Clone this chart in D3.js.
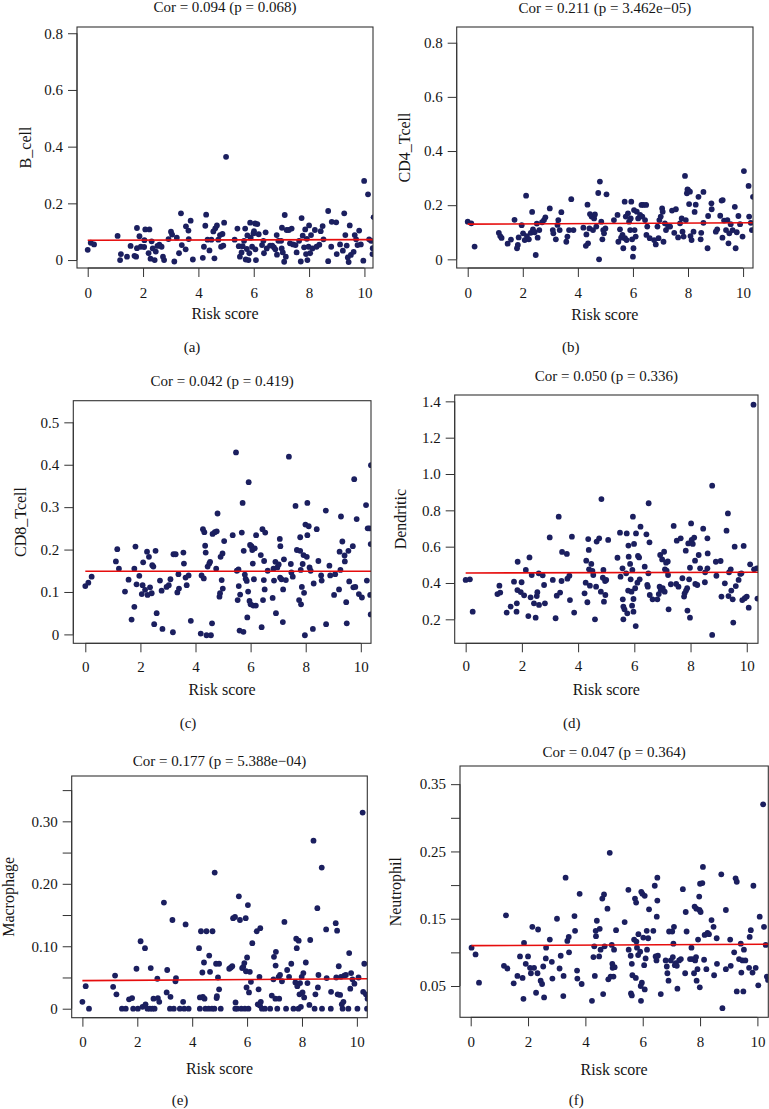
<!DOCTYPE html>
<html><head><meta charset="utf-8">
<script src="https://cdn.jsdelivr.net/npm/d3@7"></script>
<style>
html,body{margin:0;padding:0;background:#fff;}
svg{display:block;}
text{font-family:"Liberation Serif","Times New Roman",serif;fill:#151515;}
</style></head>
<body>
<script>
// ---------------- DATA ----------------
const xTicks = [0, 2, 4, 6, 8, 10];
const titles = ["Cor = 0.094 (p = 0.068)", "Cor = 0.211 (p = 3.462e\u221205)", "Cor = 0.042 (p = 0.419)",
                "Cor = 0.050 (p = 0.336)", "Cor = 0.177 (p = 5.388e\u221204)", "Cor = 0.047 (p = 0.364)"];
const cellTypes = ["B_cell", "CD4_Tcell", "CD8_Tcell", "Dendritic", "Macrophage", "Neutrophil"];
const panelLabels = ["(a)", "(b)", "(c)", "(d)", "(e)", "(f)"];
const xLabel = "Risk score";
const yTicks = [[0,0.2,0.4,0.6,0.8],[0,0.2,0.4,0.6,0.8],[0,0.1,0.2,0.3,0.4,0.5],
                [0.2,0.4,0.6,0.8,1.0,1.2,1.4],[0,0.05,0.10,0.15,0.20,0.25,0.30,0.35],
                [0.05,0.10,0.15,0.20,0.25,0.30,0.35]];
const yTickLabels = [["0","0.2","0.4","0.6","0.8"],["0","0.2","0.4","0.6","0.8"],
                     ["0","0.1","0.2","0.3","0.4","0.5"],["0.2","0.4","0.6","0.8","1.0","1.2","1.4"],
                     ["0","","0.10","","0.20","","0.30",""],["0.05","","0.15","","0.25","","0.35"]];
const xDomains = [[-0.387,10.31],[-0.40,10.36],[-0.436,10.37],[-0.39,10.40],[-0.39,10.38],[-0.373,10.38]];
const yDomains = [[-0.028,0.822],[-0.032,0.858],[-0.021,0.551],[0.068,1.435],[-0.0144,0.3726],[0.0035,0.377]];
// fitted line: [x start, y at start, y at x = 10.4]
const fitLines = [[0,0.070,0.072],[0,0.130,0.135],[0,0.149,0.149],[0,0.455,0.459],[0,0.045,0.048],[0.03,0.110,0.112]];

const bCell = [[0,0.036],[0.11,0.061],[0.23,0.055],[1.08,0.085],[1.17,0],[1.2,0.021],[1.42,0.012],[1.55,0.05],[1.69,0.015],[1.75,0.012],[1.78,0.113],[1.78,0.042],[1.87,0.084],[1.92,0.047],[2.04,0.046],[2.08,0.108],[2.05,0.07],[2.23,0.108],[2.2,0.024],[2.27,0.005],[2.31,0.066],[2.35,0.041],[2.42,0],[2.46,0.03],[2.52,0.05],[2.59,0.054],[2.67,0.047],[2.72,0.012],[2.76,0],[2.92,0.074],[3.01,0.1],[3.05,0.09],[3.13,-0.005],[3.22,0.079],[3.3,0.024],[3.37,0.165],[3.4,0.053],[3.55,0.119],[3.54,0.038],[3.64,0.104],[3.65,0.074],[3.72,0.139],[3.8,0.002],[4.16,0.008],[4.2,0.047],[4.25,0.121],[4.28,0.16],[4.33,0.072],[4.4,0.034],[4.47,0.072],[4.54,0.101],[4.58,0.006],[4.61,0.112],[4.67,0.122],[4.72,0.072],[4.78,0.088],[4.82,0.047],[4.87,0.092],[4.9,0.051],[4.93,0.132],[5.0,0.364],[5.31,0.072],[5.41,0.111],[5.46,0.049],[5.5,0.012],[5.56,0.027],[5.6,0.049],[5.65,0.068],[5.69,0.111],[5.71,0.002],[5.75,0.039],[5.77,0.087],[5.81,0],[5.84,0.024],[5.87,0.132],[5.89,0.079],[5.94,0.047],[5.99,0.094],[6.01,0.102],[6.05,0.129],[6.06,0.038],[6.08,0],[6.13,0.127],[6.18,0.091],[6.3,0.053],[6.35,0.068],[6.37,0.024],[6.43,0.098],[6.47,0.041],[6.59,0.051],[6.67,0.051],[6.73,0.045],[6.78,0.038],[6.83,0.088],[6.84,0.019],[6.89,0.068],[6.99,0.068],[7.02,0.114],[7.01,0.041],[7.05,0.027],[7.1,-0.006],[7.12,0.159],[7.16,0.012],[7.19,0.106],[7.27,0.106],[7.31,0.059],[7.37,0.111],[7.42,0.055],[7.51,0.053],[7.55,0.027],[7.64,0.068],[7.7,-0.005],[7.73,0.148],[7.77,0.086],[7.82,0.045],[7.86,0.108],[7.89,0.021],[7.92,0.075],[7.94,0],[7.98,0.047],[8.0,0.122],[8.04,0.024],[8.07,0.088],[8.12,0.041],[8.21,0.106],[8.27,0.047],[8.37,0.054],[8.42,0.102],[8.49,0.12],[8.52,0.073],[8.69,-0.004],[8.69,0.173],[8.8,0.047],[8.82,0.135],[8.98,0.133],[9.0,0.021],[9.12,0.055],[9.22,0.033],[9.27,0.165],[9.31,0.088],[9.36,0.051],[9.4,0.009],[9.43,-0.007],[9.47,0.122],[9.51,0.018],[9.61,0.029],[9.65,0.088],[9.7,0.073],[9.75,0.053],[9.81,0.104],[9.87,0.055],[9.96,-0.002],[9.99,0.279],[10.13,0.232],[10.17,0.073],[10.24,0.068],[10.29,0.021],[10.3,0.042],[10.33,0.151]];

const cd4Tcell = [[0,0.139],[0.13,0.133],[0.25,0.047],[1.13,0.098],[1.18,0.086],[1.23,0.079],[1.45,0.058],[1.57,0.073],[1.7,0.146],[1.79,0.041],[1.82,0.053],[1.85,0.081],[1.96,0.126],[2.01,0.096],[2.07,0.071],[2.12,0.235],[2.15,0.086],[2.22,0.074],[2.29,0.098],[2.34,0.175],[2.37,0.111],[2.43,0.1],[2.47,0.016],[2.51,0.132],[2.54,0.08],[2.6,0.108],[2.7,0.137],[2.77,0.145],[2.82,0.155],[2.98,0.188],[3.09,0.108],[3.11,0.096],[3.2,0.074],[3.26,0.127],[3.29,0.145],[3.34,0.108],[3.4,0.174],[3.58,0.065],[3.62,0.084],[3.68,0.108],[3.76,0.222],[3.84,0.108],[4.2,0.117],[4.29,0.05],[4.31,0.092],[4.35,0.202],[4.37,0.059],[4.42,0.114],[4.44,0.167],[4.5,0.158],[4.55,0.108],[4.59,0.151],[4.62,0.166],[4.67,0.121],[4.74,0.245],[4.77,0],[4.8,0.287],[4.85,0.139],[4.89,0.074],[4.92,0.108],[4.95,0.096],[5.0,0.114],[5.04,0.24],[5.31,0.145],[5.44,0.164],[5.47,0.065],[5.53,0.111],[5.57,0.08],[5.62,0.09],[5.65,0.041],[5.7,0.213],[5.71,0.078],[5.74,0.158],[5.77,0.071],[5.82,0.17],[5.86,0.139],[5.9,0.108],[5.92,0.151],[5.94,0.213],[5.97,0.074],[6.0,0.01],[6.02,0.041],[6.04,0.182],[6.06,0.108],[6.1,0.084],[6.14,0.176],[6.19,0.151],[6.26,0.164],[6.31,0.201],[6.34,0.158],[6.38,0.201],[6.44,0.145],[6.48,0.201],[6.49,0.09],[6.52,0.121],[6.61,0.078],[6.77,0.071],[6.83,0.055],[6.89,0.121],[6.93,0.078],[6.96,0.145],[7.01,0.158],[7.06,0.188],[7.08,0.176],[7.11,0.065],[7.16,0.133],[7.2,0.108],[7.28,0.121],[7.35,0.121],[7.42,0.18],[7.5,0.098],[7.56,0.185],[7.64,0.081],[7.71,0.133],[7.77,0.151],[7.8,0.102],[7.84,0.084],[7.89,0.308],[7.92,0.145],[7.96,0.244],[7.98,0.258],[8.0,0.256],[8.04,0.204],[8.07,0.25],[8.09,0.086],[8.13,0.071],[8.2,0.102],[8.24,0.175],[8.28,0.202],[8.38,0.231],[8.46,0.074],[8.48,0.098],[8.56,0.249],[8.56,0.135],[8.71,0.041],[8.73,0.16],[8.85,0.207],[8.86,0.185],[9.01,0.102],[9.06,0.111],[9.17,0.161],[9.22,0.217],[9.26,0.219],[9.25,0.08],[9.31,0.143],[9.38,0.108],[9.43,0.145],[9.47,0.059],[9.5,0.096],[9.55,0.13],[9.62,0.108],[9.7,0.194],[9.73,0.041],[9.77,0.1],[9.83,0.16],[9.89,0.13],[9.98,0.084],[10.03,0.326],[10.2,0.271],[10.22,0.158],[10.28,0.135],[10.32,0.108],[10.36,0.231]];

const cd8Tcell = [[0,0.114],[0.11,0.122],[0.23,0.136],[1.11,0.172],[1.16,0.201],[1.22,0.155],[1.44,0.101],[1.57,0.129],[1.68,0.035],[1.78,0.065],[1.78,0.155],[1.82,0.207],[1.86,0.118],[1.96,0.138],[2.05,0.095],[2.08,0.116],[2.1,0.17],[2.17,0.105],[2.24,0.195],[2.26,0.093],[2.31,0.183],[2.35,0.111],[2.41,0.097],[2.43,0.163],[2.47,0.16],[2.5,0.024],[2.55,0.197],[2.59,0.05],[2.71,0.127],[2.77,0.103],[2.8,0.013],[2.95,0.112],[3.03,0.116],[3.09,0.13],[3.18,0.005],[3.2,0.189],[3.28,0.189],[3.34,0.099],[3.38,0.142],[3.4,0.108],[3.56,0.193],[3.58,0.167],[3.64,0.134],[3.68,0.116],[3.75,0.139],[3.83,0.032],[4.19,0.002],[4.22,0.139],[4.27,0.248],[4.3,0.132],[4.32,0.241],[4.35,0.209],[4.37,0.193],[4.4,-0.002],[4.44,0.16],[4.5,0.167],[4.53,0.171],[4.56,-0.002],[4.6,0.026],[4.62,0.237],[4.7,0.241],[4.75,0.155],[4.77,0.243],[4.8,0.285],[4.87,0.089],[4.89,0.097],[4.91,0.183],[4.95,0.128],[4.98,0.191],[4.99,0.108],[5.04,0.22],[5.35,0.234],[5.47,0.429],[5.5,0.15],[5.53,0.081],[5.56,0.153],[5.57,0.114],[5.6,0.009],[5.62,0.094],[5.68,0.24],[5.71,0.31],[5.74,0.006],[5.75,0.197],[5.79,0.141],[5.82,0.131],[5.86,0.126],[5.88,0.04],[5.91,0.101],[5.93,0.359],[5.96,0.079],[5.98,0.211],[6.0,0.071],[6.03,0.208],[6.06,0.199],[6.08,0.167],[6.1,0.068],[6.12,0.13],[6.15,0.203],[6.19,0.068],[6.2,0.234],[6.37,0.187],[6.4,0.017],[6.43,0.248],[6.45,0.081],[6.48,0.128],[6.49,0.173],[6.53,0.24],[6.51,0.106],[6.62,0.15],[6.8,0.086],[6.83,0.155],[6.85,0.127],[6.9,0.171],[6.92,0.05],[6.97,0.158],[7.02,0.165],[7.06,0.225],[7.07,0.134],[7.08,0.208],[7.12,0.13],[7.17,0.029],[7.18,0.106],[7.21,0.177],[7.28,0.128],[7.39,0.419],[7.46,0.166],[7.48,0.146],[7.53,0.136],[7.63,0.303],[7.68,0.199],[7.76,0.081],[7.8,0.229],[7.8,0.197],[7.82,0.152],[7.83,0.071],[7.86,0.112],[7.89,0.166],[7.92,0.187],[7.94,0.098],[7.97,-0.002],[7.99,0.259],[8.04,0.183],[8.06,0.31],[8.06,0.234],[8.11,0.255],[8.14,0.158],[8.18,0.15],[8.26,0.013],[8.29,0.12],[8.4,0.248],[8.46,0.173],[8.56,0.139],[8.58,0.127],[8.73,0.292],[8.74,0.024],[8.86,0.162],[8.89,0.139],[9.03,0.093],[9.07,0.142],[9.21,0.106],[9.23,0.195],[9.26,0.152],[9.28,0.278],[9.33,0.219],[9.41,0.186],[9.42,0.172],[9.47,0.076],[9.49,0.026],[9.55,0.197],[9.58,0.125],[9.71,0.208],[9.73,0.111],[9.76,0.366],[9.8,0.112],[9.85,0.272],[9.93,0.095],[10.04,0.087],[10.19,0.305],[10.22,0.127],[10.25,0.25],[10.31,0.25],[10.34,0.093],[10.36,0.047],[10.36,0.213],[10.37,0.399]];

const dendritic = [[0,0.417],[0.15,0.42],[0.25,0.242],[1.13,0.339],[1.2,0.385],[1.23,0.347],[1.46,0.237],[1.6,0.27],[1.72,0.407],[1.81,0.242],[1.82,0.288],[1.84,0.361],[1.85,0.517],[1.96,0.35],[1.99,0.404],[2.08,0.332],[2.14,0.472],[2.23,0.218],[2.27,0.541],[2.31,0.321],[2.35,0.444],[2.43,0.288],[2.49,0.209],[2.53,0.328],[2.55,0.349],[2.6,0.453],[2.61,0.279],[2.74,0.442],[2.79,0.389],[2.82,0.288],[2.99,0.651],[3.1,0.417],[3.2,0.206],[3.24,0.33],[3.36,0.347],[3.31,0.765],[3.41,0.411],[3.43,0.571],[3.6,0.56],[3.62,0.424],[3.69,0.44],[3.71,0.306],[3.78,0.655],[3.86,0.237],[4.23,0.343],[4.27,0.402],[4.29,0.523],[4.33,0.294],[4.36,0.642],[4.38,0.582],[4.39,0.475],[4.42,0.385],[4.47,0.505],[4.51,0.466],[4.54,0.444],[4.6,0.2],[4.64,0.38],[4.66,0.628],[4.75,0.646],[4.81,0.352],[4.83,0.862],[4.88,0.429],[4.9,0.472],[4.92,0.297],[4.96,0.411],[4.97,0.334],[5.0,0.417],[5.07,0.637],[5.4,0.539],[5.49,0.677],[5.51,0.435],[5.58,0.481],[5.59,0.31],[5.61,0.27],[5.61,0.2],[5.65,0.255],[5.71,0.453],[5.73,0.673],[5.75,0.233],[5.78,0.358],[5.79,0.606],[5.8,0.545],[5.85,0.505],[5.87,0.42],[5.9,0.352],[5.92,0.275],[5.93,0.472],[5.95,0.765],[5.97,0.312],[5.97,0.242],[5.99,0.615],[6.03,0.371],[6.05,0.163],[6.06,0.673],[6.11,0.402],[6.13,0.549],[6.17,0.541],[6.19,0.42],[6.22,0.71],[6.37,0.49],[6.43,0.668],[6.46,0.389],[6.48,0.38],[6.5,0.453],[6.51,0.839],[6.54,0.624],[6.55,0.334],[6.65,0.31],[6.82,0.31],[6.87,0.339],[6.9,0.38],[6.92,0.554],[6.94,0.361],[6.99,0.53],[7.01,0.371],[7.06,0.572],[7.08,0.352],[7.09,0.475],[7.13,0.512],[7.15,0.468],[7.19,0.519],[7.2,0.444],[7.22,0.255],[7.3,0.393],[7.4,0.714],[7.49,0.395],[7.51,0.633],[7.57,0.38],[7.65,0.646],[7.71,0.426],[7.77,0.325],[7.79,0.343],[7.83,0.578],[7.84,0.358],[7.88,0.371],[7.89,0.248],[7.92,0.618],[7.95,0.42],[7.98,0.484],[7.98,0.209],[8.02,0.728],[8.04,0.637],[8.08,0.615],[8.13,0.65],[8.16,0.523],[8.17,0.395],[8.24,0.389],[8.29,0.554],[8.34,0.481],[8.45,0.699],[8.51,0.404],[8.52,0.459],[8.6,0.646],[8.61,0.563],[8.6,0.481],[8.77,0.936],[8.77,0.114],[8.92,0.44],[8.9,0.517],[9.07,0.521],[9.1,0.325],[9.22,0.398],[9.28,0.688],[9.33,0.783],[9.35,0.328],[9.37,0.459],[9.43,0.475],[9.45,0.358],[9.5,0.31],[9.52,0.182],[9.57,0.6],[9.61,0.383],[9.71,0.417],[9.77,0.45],[9.81,0.453],[9.84,0.306],[9.89,0.604],[9.93,0.316],[10.0,0.325],[10.07,0.264],[10.12,0.503],[10.24,1.382],[10.26,0.475],[10.36,0.481],[10.38,0.314]];

const macrophage = [[0,0.011],[0.12,0.036],[0.24,0],[1.12,0.035],[1.19,0.053],[1.24,0.023],[1.44,0],[1.58,0],[1.7,0.015],[1.81,0.017],[1.85,0],[1.97,0.064],[2.02,0],[2.12,0.108],[2.19,0.003],[2.28,0.097],[2.3,0.007],[2.37,0],[2.46,0],[2.49,0.065],[2.55,0],[2.59,0.016],[2.63,0],[2.73,0.048],[2.75,0.017],[2.8,0.011],[2.97,0.17],[3.07,0.026],[3.09,0.062],[3.19,0],[3.21,0.019],[3.28,0.142],[3.33,0],[3.39,0.044],[3.41,0.049],[3.55,0],[3.67,0.011],[3.71,0],[3.76,0.135],[3.87,0],[4.25,0.097],[4.28,0],[4.28,0.018],[4.32,0.124],[4.37,0.058],[4.39,0.019],[4.43,0.074],[4.45,0.016],[4.48,0],[4.52,0.124],[4.6,0],[4.62,0.085],[4.65,0.059],[4.72,0],[4.74,0.124],[4.81,0],[4.82,0.218],[4.87,0.072],[4.89,0.017],[4.9,0.02],[4.94,0.05],[4.98,0.072],[4.98,0.031],[5.04,0],[5.35,0.064],[5.41,0.066],[5.46,0.068],[5.49,0.145],[5.56,0.147],[5.57,0],[5.58,0.01],[5.64,0],[5.7,0.18],[5.74,0.142],[5.79,0],[5.82,0.065],[5.86,0.067],[5.9,0.073],[5.92,0],[5.95,0.145],[5.96,0.06],[5.98,0.034],[6.0,0.082],[6.03,0.166],[6.05,0],[6.07,0.026],[6.1,0.059],[6.14,0.043],[6.19,0.105],[6.35,0.124],[6.39,0.007],[6.42,0.031],[6.45,0.051],[6.48,0.129],[6.47,0.005],[6.5,0.011],[6.54,0],[6.65,0],[6.84,0],[6.9,0.021],[6.96,0.047],[6.98,0.083],[7.03,0.016],[7.04,0.069],[7.05,0.091],[7.1,0],[7.15,0.051],[7.17,0.016],[7.2,0.054],[7.27,0.044],[7.36,0.139],[7.42,0],[7.46,0.062],[7.53,0.051],[7.61,0.072],[7.69,0],[7.76,0.042],[7.79,0.112],[7.81,0.097],[7.83,0.036],[7.88,0.109],[7.87,0],[7.91,0.023],[7.93,0.041],[7.96,0.003],[7.99,0.051],[8.02,0.026],[8.05,0.057],[8.08,0.018],[8.14,0.074],[8.2,0.041],[8.27,0.006],[8.3,0.11],[8.42,0.269],[8.46,0],[8.49,0.023],[8.56,0.161],[8.58,0.034],[8.6,0.054],[8.72,0.226],[8.73,0],[8.88,0.127],[8.9,0.049],[9.05,0],[9.06,0.027],[9.23,0.137],[9.25,0.05],[9.28,0.125],[9.3,0.023],[9.34,0.068],[9.39,0.022],[9.42,0.051],[9.45,0.007],[9.48,0],[9.51,0.011],[9.54,0.053],[9.6,0.054],[9.69,0],[9.72,0.089],[9.76,0.032],[9.79,0.057],[9.84,0.047],[9.91,0.04],[10.02,0],[10.06,0.05],[10.21,0.314],[10.23,0.027],[10.27,0.072],[10.33,0.023],[10.37,0],[10.39,0.016]];

const neutrophil = [[0.03,0.107],[0.17,0.097],[0.29,0.055],[1.16,0.08],[1.23,0.155],[1.28,0.076],[1.5,0.054],[1.63,0.065],[1.72,0.094],[1.81,0.062],[1.84,0.031],[1.86,0.114],[1.92,0.083],[2.0,0.094],[2.07,0.077],[2.1,0.069],[2.15,0.138],[2.21,0.077],[2.28,0.04],[2.33,0.069],[2.35,0.134],[2.44,0.058],[2.49,0.053],[2.53,0.079],[2.56,0.033],[2.62,0.091],[2.63,0.107],[2.76,0.119],[2.83,0.086],[2.85,0.061],[3.01,0.15],[3.1,0.076],[3.14,0.095],[3.23,0.035],[3.24,0.065],[3.31,0.211],[3.37,0.117],[3.42,0.123],[3.43,0.1],[3.62,0.154],[3.64,0.132],[3.71,0.073],[3.72,0.061],[3.8,0.187],[3.87,0.053],[4.23,0.028],[4.28,0.093],[4.31,0.109],[4.33,0.065],[4.36,0.132],[4.37,0.124],[4.4,0.147],[4.48,0.094],[4.5,0.135],[4.53,0.104],[4.59,0.18],[4.62,0.038],[4.65,0.186],[4.67,0.109],[4.77,0.165],[4.8,0.06],[4.85,0.248],[4.88,0.064],[4.92,0.111],[4.94,0.083],[4.95,0.077],[4.98,0.064],[5.0,0.104],[5.02,0.078],[5.07,0.133],[5.37,0.145],[5.5,0.193],[5.51,0.104],[5.58,0.095],[5.59,0.039],[5.62,0.036],[5.62,0.083],[5.64,0.066],[5.7,0.119],[5.73,0.18],[5.76,0.062],[5.77,0.174],[5.78,0.116],[5.8,0.107],[5.84,0.096],[5.85,0.127],[5.91,0.101],[5.93,0.05],[5.94,0.028],[5.95,0.19],[5.97,0.055],[5.99,0.187],[6.02,0.122],[6.05,0.081],[6.07,0.184],[6.07,0.045],[6.1,0.091],[6.14,0.132],[6.15,0.104],[6.19,0.121],[6.22,0.164],[6.37,0.132],[6.42,0.199],[6.45,0.094],[6.48,0.088],[6.49,0.153],[6.51,0.211],[6.51,0.177],[6.53,0.095],[6.63,0.038],[6.8,0.088],[6.84,0.079],[6.86,0.069],[6.9,0.058],[6.92,0.131],[6.98,0.088],[7.03,0.131],[7.05,0.093],[7.07,0.113],[7.09,0.138],[7.12,0.081],[7.15,0.084],[7.19,0.08],[7.21,0.046],[7.27,0.088],[7.33,0.09],[7.4,0.194],[7.48,0.069],[7.5,0.16],[7.53,0.131],[7.65,0.09],[7.7,0.107],[7.73,0.09],[7.79,0.069],[7.81,0.168],[7.83,0.088],[7.86,0.093],[7.87,0.165],[7.88,0.058],[7.91,0.075],[7.93,0.119],[7.97,0.183],[7.98,0.163],[7.99,0.048],[8.0,0.202],[8.02,0.16],[8.08,0.203],[8.1,0.227],[8.14,0.089],[8.16,0.126],[8.22,0.075],[8.26,0.129],[8.31,0.127],[8.4,0.148],[8.47,0.138],[8.49,0.066],[8.58,0.121],[8.59,0.083],[8.74,0.216],[8.78,0.017],[8.9,0.163],[8.9,0.075],[9.05,0.119],[9.07,0.08],[9.19,0.1],[9.24,0.21],[9.28,0.205],[9.28,0.042],[9.36,0.09],[9.42,0.113],[9.44,0.07],[9.48,0.088],[9.51,0.042],[9.53,0.104],[9.58,0.088],[9.71,0.077],[9.73,0.123],[9.77,0.133],[9.83,0.07],[9.86,0.199],[9.94,0.077],[10.03,0.051],[10.08,0.153],[10.2,0.32],[10.23,0.138],[10.29,0.111],[10.33,0.064],[10.37,0.059]];

const seriesList = [bCell, cd4Tcell, cd8Tcell, dendritic, macrophage, neutrophil];

// ---------------- LAYOUT ----------------
const W = 769, H = 1109;
const boxes = [
  {l:77,    r:373,   t:27,    b:268,    titleY:7,     xlabY:313,  ylabX:25,    tag:[192,347],     pad:10},
  {l:456.7, r:753,   t:27,    b:268,    titleY:8,     xlabY:314,  ylabX:404,   tag:[570.7,347],   pad:10},
  {l:73.3,  r:371,   t:400.7, b:643.3,  titleY:380.7, xlabY:689,  ylabX:20,    tag:[188,722.7],   pad:9},
  {l:454.7, r:758,   t:395,   b:643.3,  titleY:376,   xlabY:689,  ylabX:400.7, tag:[571.7,722.7], pad:8.5},
  {l:71.7,  r:367.3, t:776,   b:1017.7, titleY:761,   xlabY:1068, ylabX:8.5,   tag:[180,1100],    pad:10},
  {l:460,   r:768.3, t:766,   b:1017.3, titleY:751.7, xlabY:1069, ylabX:395.7, tag:[576.3,1100],  pad:10}
];
const dotColor = "#1b1f5f", lineColor = "#e60d0d", inkColor = "#151515";
const tickLen = 9;

const svg = d3.select("body").append("svg").attr("width", W).attr("height", H);
const defs = svg.append("defs");

seriesList.forEach((data, i) => {
  const bx = boxes[i];
  const x = d3.scaleLinear().domain(xDomains[i]).range([bx.l, bx.r]);
  const y = d3.scaleLinear().domain(yDomains[i]).range([bx.b, bx.t]);
  const g = svg.append("g");

  defs.append("clipPath").attr("id", "clip" + i)
    .append("rect").attr("x", bx.l).attr("y", bx.t).attr("width", bx.r - bx.l).attr("height", bx.b - bx.t);

  // points
  g.append("g").attr("clip-path", `url(#clip${i})`)
    .selectAll("circle").data(data).join("circle")
    .attr("cx", d => x(d[0])).attr("cy", d => y(d[1])).attr("r", 2.9)
    .attr("fill", dotColor);

  // fitted line
  const fl = fitLines[i];
  const xEnd = xDomains[i][1];
  const yEnd = fl[1] + (fl[2] - fl[1]) * (xEnd - fl[0]) / (10.4 - fl[0]);
  g.append("line").attr("clip-path", `url(#clip${i})`)
    .attr("x1", x(fl[0])).attr("y1", y(fl[1])).attr("x2", x(xEnd)).attr("y2", y(yEnd))
    .attr("stroke", lineColor).attr("stroke-width", 1.6);

  // box
  g.append("rect").attr("x", bx.l).attr("y", bx.t).attr("width", bx.r - bx.l).attr("height", bx.b - bx.t)
    .attr("fill", "none").attr("stroke", "#333").attr("stroke-width", 1.1);

  // x axis
  const xAxis = d3.axisBottom(x).tickValues(xTicks).tickSize(tickLen).tickPadding(bx.pad)
    .tickFormat(d3.format("d"));
  const xg = g.append("g").attr("transform", `translate(0,${bx.b})`).call(xAxis);
  xg.select(".domain").attr("d", `M${x(xTicks[0])},0H${x(xTicks[xTicks.length-1])}`).attr("stroke", "#333");
  xg.selectAll(".tick line").attr("stroke", "#333");
  xg.selectAll(".tick text").attr("font-size", 15).attr("font-family", "Liberation Serif").attr("fill", inkColor);

  // y axis
  const yLabs = yTickLabels[i];
  const yAxis = d3.axisLeft(y).tickValues(yTicks[i]).tickSize(tickLen).tickPadding(5)
    .tickFormat((d, k) => yLabs[k]);
  const yg = g.append("g").attr("transform", `translate(${bx.l},0)`).call(yAxis);
  const yt = yTicks[i];
  yg.select(".domain").attr("d", `M0,${y(yt[0])}V${y(yt[yt.length-1])}`).attr("stroke", "#333");
  yg.selectAll(".tick line").attr("stroke", "#333");
  yg.selectAll(".tick text").attr("font-size", 15).attr("font-family", "Liberation Serif").attr("fill", inkColor);

  // title
  g.append("text").attr("x", (bx.l + bx.r) / 2).attr("y", bx.titleY)
    .attr("text-anchor", "middle").attr("dominant-baseline", "central")
    .attr("font-size", 15).text(titles[i]);

  // x label
  g.append("text").attr("x", (bx.l + bx.r) / 2).attr("y", bx.xlabY)
    .attr("text-anchor", "middle").attr("dominant-baseline", "central")
    .attr("font-size", 16).text(xLabel);

  // y label
  g.append("text").attr("transform", `translate(${bx.ylabX},${(bx.t + bx.b) / 2}) rotate(-90)`)
    .attr("text-anchor", "middle").attr("dominant-baseline", "central")
    .attr("font-size", 16).text(cellTypes[i]);

  // panel tag
  g.append("text").attr("x", bx.tag[0]).attr("y", bx.tag[1])
    .attr("text-anchor", "middle").attr("dominant-baseline", "central")
    .attr("font-size", 15).text(panelLabels[i]);
});
</script>
</body></html>
